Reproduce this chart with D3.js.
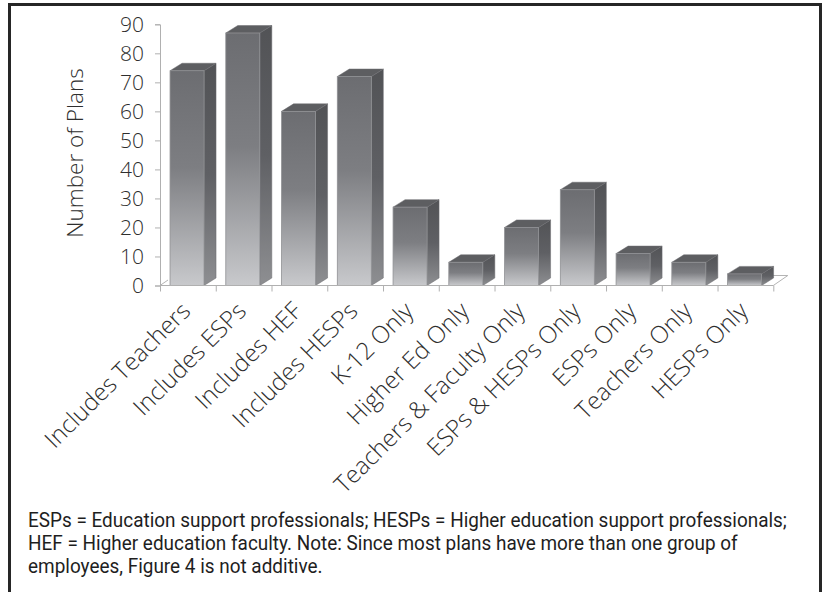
<!DOCTYPE html>
<html>
<head>
<meta charset="utf-8">
<script src="https://cdn.jsdelivr.net/npm/d3@7/dist/d3.min.js"></script>
<style>
  html, body { margin: 0; padding: 0; background: #fff; }
  svg { display: block; }
</style>
</head>
<body>
<svg id="chart" width="823" height="592"></svg>
<script>
// Plan coverage by employee group
const categories = [
  "Includes Teachers", "Includes ESPs", "Includes HEF", "Includes HESPs",
  "K-12 Only", "Higher Ed Only", "Teachers & Faculty Only",
  "ESPs & HESPs Only", "ESPs Only", "Teachers Only", "HESPs Only"
];
const plans = [74, 87, 60, 72, 27, 8, 20, 33, 11, 8, 4];
const yTicks = [0, 10, 20, 30, 40, 50, 60, 70, 80, 90];
const yTitle = "Number of Plans";
const noteLines = [
  "ESPs = Education support professionals; HESPs = Higher education support professionals;",
  "HEF = Higher education faculty. Note: Since most plans have more than one group of",
  "employees, Figure 4 is not additive."
];

const svg = d3.select("#chart");
const labelFont = "'Open Sans', Lato, 'Noto Sans', sans-serif";
const labelColor = "#2e2e2e";

// frame around the figure
svg.append("path")
  .attr("d", "M9.5,600 V4.5 H820.5 V600")
  .attr("fill", "none").attr("stroke", "#262626").attr("stroke-width", 3);

const left = 160, right = 773.3, y0 = 285.5, yTop = 24.3;
const x = d3.scaleBand().domain(categories).range([left, right]).paddingInner(0).paddingOuter(0);
const y = d3.scaleLinear().domain([0, 90]).range([y0, yTop]);

// 3-D depth offsets
const dx = 12, dy = -7.5;       // bars
const fdx = 14.5, fdy = -10;    // floor

const defs = svg.append("defs");
const gFront = defs.append("linearGradient").attr("id", "front")
  .attr("x1", 0).attr("y1", 0).attr("x2", 0).attr("y2", 1);
gFront.append("stop").attr("offset", 0).attr("stop-color", "#6c6d71");
gFront.append("stop").attr("offset", 0.45).attr("stop-color", "#7d7e82");
gFront.append("stop").attr("offset", 1).attr("stop-color", "#c8c9cc");
const gSide = defs.append("linearGradient").attr("id", "side")
  .attr("x1", 0).attr("y1", 0).attr("x2", 0).attr("y2", 1);
gSide.append("stop").attr("offset", 0).attr("stop-color", "#525356");
gSide.append("stop").attr("offset", 0.5).attr("stop-color", "#5f6064");
gSide.append("stop").attr("offset", 1).attr("stop-color", "#8e8f92");

// floor outline
const floor = svg.append("g").attr("stroke", "#b4b4b4").attr("fill", "none").attr("stroke-width", 1);
floor.append("line").attr("x1", left).attr("y1", y0).attr("x2", left + 8).attr("y2", y0 - 5.5);
floor.append("path")
  .attr("d", `M${right},${y0} L${right + fdx},${y0 + fdy} L${right - 2},${y0 + fdy}`);

// bars
const bw = x.bandwidth() * 0.61, off = x.bandwidth() * 0.18;
const bars = svg.append("g").selectAll("g").data(categories).join("g");
bars.each(function (c, i) {
  const g = d3.select(this);
  const xl = x(c) + off, xr = xl + bw, yt = y(plans[i]);
  // side face
  g.append("path")
    .attr("d", `M${xr},${yt} L${xr + dx},${yt + dy} L${xr + dx},${y0 + dy} L${xr},${y0} Z`)
    .attr("fill", "url(#side)").attr("stroke", "#6a6b6e").attr("stroke-width", 0.5);
  // top face
  g.append("path")
    .attr("d", `M${xl},${yt} L${xl + dx},${yt + dy} L${xr + dx},${yt + dy} L${xr},${yt} Z`)
    .attr("fill", "#5d5e61").attr("stroke", "#6a6b6e").attr("stroke-width", 0.5);
  // front face
  g.append("rect")
    .attr("x", xl).attr("y", yt).attr("width", bw).attr("height", y0 - yt)
    .attr("fill", "url(#front)").attr("stroke", "#909194").attr("stroke-width", 0.8);
});

// value axis
const yAxis = svg.append("g").attr("transform", `translate(${left},0)`)
  .call(d3.axisLeft(y).tickValues(yTicks).tickSize(5).tickPadding(11).tickFormat(d3.format("d")));
yAxis.select(".domain").attr("stroke", "#b0b0b0");
yAxis.selectAll(".tick line").attr("stroke", "#b0b0b0");
yAxis.selectAll(".tick text")
  .attr("font-family", labelFont).attr("font-size", 21).attr("font-weight", 300)
  .attr("fill", labelColor);

// category axis: boundary ticks
const xi = d3.scaleLinear().domain([0, categories.length]).range([left, right]);
const xTicks = svg.append("g").attr("transform", `translate(0,${y0})`)
  .call(d3.axisBottom(xi).ticks(categories.length).tickSize(6).tickFormat(""));
xTicks.select(".domain").attr("stroke", "#b0b0b0").attr("d", `M${left},0H${right}`);
xTicks.selectAll(".tick line").attr("stroke", "#b0b0b0");

// category labels
svg.append("g").selectAll("text").data(categories).join("text")
  .attr("transform", c => `translate(${x(c) + x.bandwidth() / 2 + 4},${y0 + 27}) rotate(-45)`)
  .attr("text-anchor", "end")
  .attr("font-family", labelFont).attr("font-size", 24).attr("font-weight", 300)
  .attr("fill", labelColor)
  .text(c => c);

// axis title
svg.append("text")
  .attr("transform", `translate(83,153) rotate(-90)`)
  .attr("text-anchor", "middle")
  .attr("font-family", labelFont).attr("font-size", 22.5).attr("font-weight", 300)
  .attr("fill", labelColor)
  .text(yTitle);

// footnote, condensed to fit the frame
const note = svg.append("g").selectAll("text").data(noteLines).join("text")
  .attr("font-family", "Roboto, 'Liberation Sans', sans-serif")
  .attr("font-size", 19.5).attr("fill", "#1e1e1e")
  .text(d => d);
const firstLen = note.node().getComputedTextLength();
const sx = 759 / firstLen;
note.attr("transform", (d, i) => `translate(28,${527 + i * 23}) scale(${sx},1)`);
</script>
</body>
</html>
